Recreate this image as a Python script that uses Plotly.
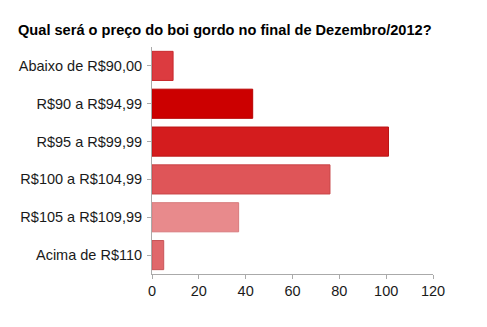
import plotly.graph_objects as go

categories = ["Abaixo de R$90,00", "R$90 a R$94,99", "R$95 a R$99,99",
              "R$100 a R$104,99", "R$105 a R$109,99", "Acima de R$110"]
values = [9, 43, 101, 76, 37, 5]
colors = ["#dc3b40", "#cc0000", "#d41c1e", "#df5558", "#e88a8c", "#e0686b"]
line_colors = ["#c8282c", "#b80000", "#bb1515", "#c84447", "#d87a7c", "#c85558"]
x_ticks = [0, 20, 40, 60, 80, 100, 120]
title = "Qual será o preço do boi gordo no final de Dezembro/2012?"

fig = go.Figure(go.Bar(
    y=categories, x=values, orientation="h",
    marker=dict(color=colors, line=dict(color=line_colors, width=1)),
))

fig.update_layout(
    width=487, height=327,
    margin=dict(l=152, r=54, t=47, b=53),
    paper_bgcolor="white", plot_bgcolor="white",
    bargap=0.23,
    showlegend=False,
    title=dict(text="<b>" + title + "</b>", x=18/487, xanchor="left",
               y=1 - 35/327, yanchor="bottom", yref="container",
               font=dict(family="Liberation Sans, Arial", size=14.6, color="black"),
               pad=dict(b=0)),
    font=dict(family="Liberation Sans, Arial", size=14, color="#1a1a1a"),
)
fig.update_yaxes(autorange="reversed", showline=True, linecolor="#aaaaaa", linewidth=1,
                 ticks="outside", ticklen=4, tickcolor="#aaaaaa", showgrid=False,
                 ticklabelstandoff=2, tickfont=dict(size=14.5, color="#1a1a1a"))
fig.update_xaxes(range=[0, 120], tickvals=x_ticks, showline=True, linecolor="#aaaaaa",
                 linewidth=1, ticks="outside", ticklen=4, tickcolor="#aaaaaa",
                 showgrid=False, zeroline=False, ticklabelstandoff=0,
                 tickfont=dict(size=14.5, color="#1a1a1a"))

fig.write_html("out.html")
